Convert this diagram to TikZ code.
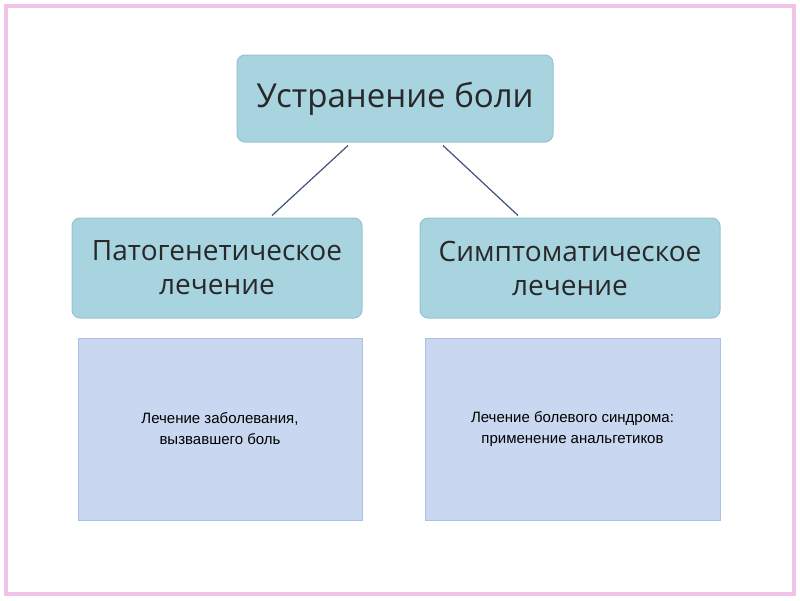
\documentclass[tikz,border=0pt]{standalone}
\usepackage{fontspec}
\setmainfont{Open Sans}
\newfontfamily\plainsans{Liberation Sans}
\usetikzlibrary{positioning, calc}
\definecolor{framepink}{RGB}{240,196,232}
\definecolor{headblue}{RGB}{168,212,224}
\definecolor{headedge}{RGB}{150,195,210}
\definecolor{boxblue}{RGB}{201,216,240}
\definecolor{boxedge}{RGB}{172,192,226}
\definecolor{linkblue}{RGB}{60,85,120}
\definecolor{headtext}{RGB}{40,40,40}
\tikzset{
    headbox/.style={draw=headedge, fill=headblue, rounded corners=8pt, line width=1pt,
        text=headtext, align=center, font=\fontsize{28}{34}\selectfont},
    notebox/.style={draw=boxedge, fill=boxblue, line width=1pt, align=center,
        font=\plainsans\fontsize{15}{21}\selectfont},
    link/.style={draw=linkblue, line width=1.2pt}
}
\begin{document}
\begin{tikzpicture}[x=1pt, y=-1pt]
    \useasboundingbox (0,0) rectangle (800,600);
    \draw[framepink, line width=4pt] (6,6) rectangle (794,594);

    \node[headbox, minimum width=316pt, minimum height=87pt, font=\fontsize{33}{38}\selectfont] (Top) at (395,98.5) {Устранение боли};
    \node[headbox, minimum width=290pt, minimum height=100pt] (Pat) at (217,268) {Патогенетическое\\лечение};
    \node[headbox, minimum width=300pt, minimum height=100pt] (Sym) at (570,268) {Симптоматическое\\лечение};

    \node[notebox, minimum width=284pt, minimum height=182pt] (PatNote) at (220,429) {Лечение заболевания,\\вызвавшего боль};
    \node[notebox, minimum width=295pt, minimum height=182pt] (SymNote) at (572.5,429) {Лечение болевого синдрома:\\применение анальгетиков};

    \draw[link] ($(Top.south -| 348,0)+(0,3)$) -- ($(Pat.north -| 272,0)+(0,-2)$);
    \draw[link] ($(Top.south -| 443,0)+(0,3)$) -- ($(Sym.north -| 518,0)+(0,-2)$);
\end{tikzpicture}
\end{document}
